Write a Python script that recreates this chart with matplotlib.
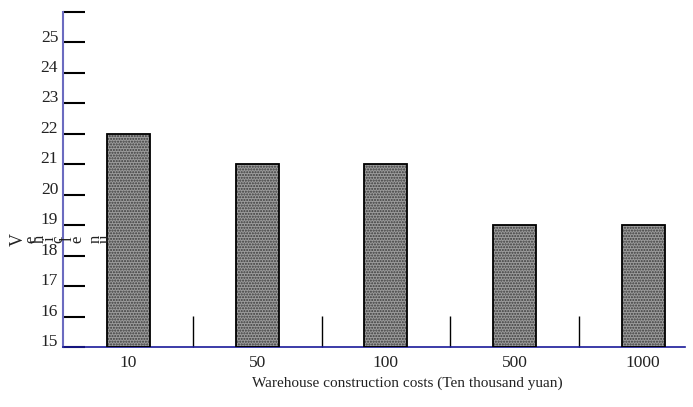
import matplotlib.pyplot as plt
import matplotlib.transforms as mtransforms
import numpy as np

plt.rcParams['font.family'] = ['Liberation Serif', 'DejaVu Serif']
plt.rcParams['hatch.linewidth'] = 1.0

costs = ["10", "50", "100", "500", "1000"]
vehicles = [22, 21, 21, 19, 19]
yticks = list(range(15, 27))
ylabels = [str(v) for v in range(15, 26)] + [""]
xlabel = "Warehouse construction costs (Ten thousand yuan)"

fig = plt.figure(figsize=(6.93, 4.07), dpi=100)
ax = fig.add_axes([0.0909, 0.1474, 0.8976, 0.8231])

x = np.arange(len(costs))
# dotted fill, then black outline on top
ax.bar(x, np.array(vehicles) - 15, bottom=15, width=0.335, color="#9c9c9c",
       edgecolor="#3a3a3a", hatch="......", linewidth=0, zorder=2)
ax.bar(x, np.array(vehicles) - 15, bottom=15, width=0.335, fill=False,
       edgecolor="black", linewidth=1.3, zorder=3)

ax.set_xlim(-0.51, 4.325)
ax.set_ylim(15, 26)

ax.set_xticks(x)
ax.set_xticklabels(costs, fontsize=12.5, color="#222222")
ax.set_xticks(x[:-1] + 0.5, minor=True)
ax.tick_params(axis="x", which="major", length=0, pad=6)
ax.tick_params(axis="x", which="minor", direction="in", length=22, width=1, color="black")

ax.set_yticks(yticks)
ax.set_yticklabels(ylabels, fontsize=12.5, color="#222222")
ax.tick_params(axis="y", direction="in", length=16, width=1.5, color="black", pad=3.5)
shift = mtransforms.ScaledTranslation(0, 5 / 72, fig.dpi_scale_trans)
for lab in ax.get_yticklabels():
    lab.set_transform(lab.get_transform() + shift)

for s in ["top", "right"]:
    ax.spines[s].set_visible(False)
ax.spines["left"].set_color("#6b6bc0")
ax.spines["left"].set_linewidth(1.5)
ax.spines["bottom"].set_color("#1a1a99")
ax.spines["bottom"].set_linewidth(1.2)

fig.text(407 / 693, 1 - 383 / 407, xlabel, fontsize=11, ha="center", va="center",
         color="#222222")

# garbled y label as in the reference: each letter turned on its side
fig.text(18 / 693, 1 - 239 / 407, "V", fontsize=13, rotation=90, ha="center",
         va="center", color="#222222")
chars = "ehicle nu"
for i, c in enumerate(chars):
    fig.text((31 + i * 9.2) / 693, 1 - 239 / 407, c, fontsize=12,
             rotation=90, ha="center", va="center", color="#222222")

fig.savefig("out.png", dpi=100)
